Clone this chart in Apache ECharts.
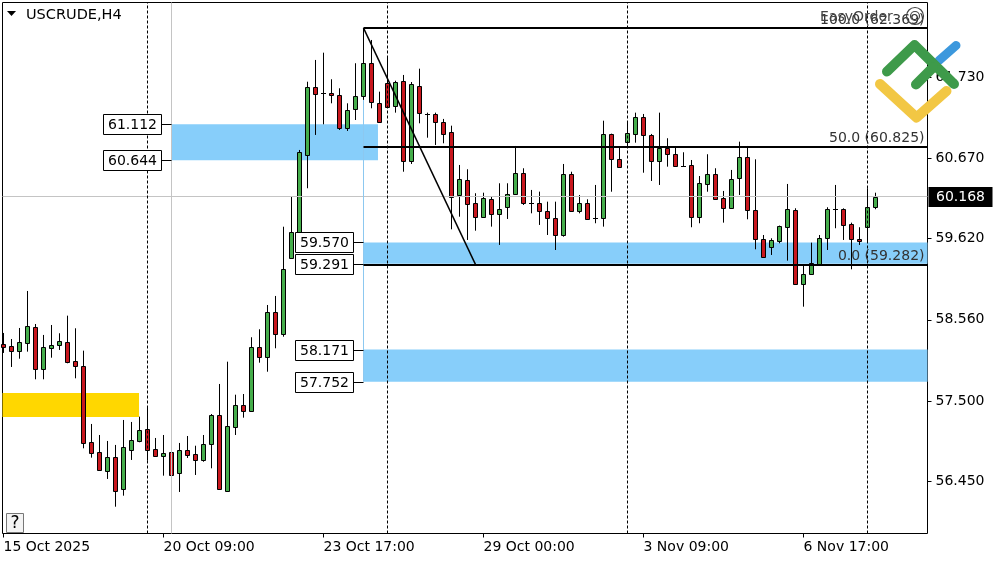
<!DOCTYPE html>
<html><head><meta charset="utf-8">
<script src="https://cdn.jsdelivr.net/npm/echarts@6/dist/echarts.min.js"></script>
<style>html,body{margin:0;padding:0;background:#fff}#c{width:1000px;height:562px}</style>
</head><body><div id="c"></div>
<script>
// ---- data ----
const xTickBars = [0, 20, 40, 60, 80, 100];
const xTickLabels = ['15 Oct 2025', '20 Oct 09:00', '23 Oct 17:00', '29 Oct 00:00', '3 Nov 09:00', '6 Nov 17:00'];
const yTickValues = [56.450, 57.500, 58.560, 59.620, 60.670, 61.730];

const opens = [58.244,58.218,58.149,58.261,58.466,57.914,58.196,58.227,58.270,58.022,
57.957,56.961,56.830,56.590,56.769,56.355,56.864,56.982,57.130,56.869,
56.786,56.834,56.556,56.856,56.808,56.730,56.935,57.317,56.329,57.157,
57.444,57.373,58.201,58.078,58.658,58.375,59.363,59.689,60.715,61.595,
61.517,61.525,61.495,61.060,61.308,61.478,61.909,61.386,61.648,61.351,
61.674,60.637,61.612,61.247,61.243,61.138,61.008,60.189,60.381,60.089,
59.898,60.133,59.937,60.029,60.198,60.473,60.089,60.089,59.984,59.885,
59.667,60.463,59.984,60.089,59.893,59.885,60.986,60.655,60.885,60.986,
61.212,60.973,60.637,60.799,60.725,60.572,60.581,59.906,60.333,60.459,
60.146,60.024,60.407,60.681,59.993,59.615,59.507,59.593,59.775,59.993,
59.027,59.158,59.289,59.624,60.010,60.010,59.811,59.615,59.775,60.029];
const closes = [58.205,58.149,58.270,58.479,57.914,58.201,58.227,58.279,58.013,57.961,
56.956,56.825,56.603,56.765,56.329,56.896,56.987,57.117,56.864,56.786,
56.821,56.538,56.856,56.799,56.734,56.935,57.317,56.347,57.174,57.444,
57.373,58.201,58.078,58.658,58.371,59.219,59.702,60.747,61.595,61.508,
61.517,61.491,61.060,61.299,61.478,61.909,61.399,61.146,61.342,61.664,
60.637,61.638,61.256,61.247,61.138,60.982,60.159,60.394,60.068,59.898,
60.146,59.937,60.003,60.202,60.473,60.089,60.089,59.984,59.893,59.667,
60.463,59.984,60.089,59.876,59.893,60.986,60.655,60.559,60.995,61.212,
60.967,60.637,60.799,60.721,60.572,60.572,59.906,60.342,60.459,60.137,
60.024,60.394,60.681,59.993,59.611,59.376,59.602,59.785,60.003,59.027,
59.158,59.298,59.632,60.010,60.010,59.798,59.615,59.589,60.029,60.168];
const lows = [58.127,57.944,58.052,58.144,57.783,57.783,58.065,58.166,57.992,57.796,
56.882,56.760,56.600,56.482,56.120,56.264,56.730,56.961,56.721,56.773,
56.525,55.937,56.312,56.756,56.534,56.707,56.621,56.340,56.312,57.056,
57.282,57.365,58.000,57.882,58.188,58.339,59.355,59.667,60.277,60.973,
61.112,61.386,61.038,61.025,61.168,61.430,61.321,61.140,61.335,61.264,
60.493,60.594,61.125,60.937,60.842,60.864,59.741,59.906,59.602,59.723,
59.890,59.776,59.537,59.876,60.190,60.059,59.950,59.798,59.667,59.471,
59.645,59.980,59.950,59.863,59.820,59.776,60.232,60.551,60.829,60.872,
60.480,60.372,60.320,60.559,60.565,60.559,59.768,59.820,60.232,60.124,
59.828,60.020,60.189,59.872,59.480,59.370,59.406,59.559,59.332,59.020,
58.731,59.145,59.282,59.471,59.755,59.602,59.219,59.537,59.567,60.003];
const highs = [58.388,58.309,58.453,58.936,58.505,58.362,58.492,58.384,58.614,58.449,
58.157,57.200,57.056,56.978,56.926,57.252,57.226,57.295,57.409,57.017,
57.056,57.017,56.952,57.043,56.916,57.056,57.330,57.722,58.013,57.582,
57.591,58.332,58.436,58.753,58.871,59.775,60.167,60.777,61.668,61.952,
62.047,61.700,61.582,61.386,61.909,62.369,62.213,61.538,61.995,61.681,
61.756,61.664,61.838,61.264,61.264,61.182,61.094,60.581,60.525,60.212,
60.219,60.167,60.342,60.342,60.829,60.538,60.255,60.233,60.102,60.102,
60.594,60.493,60.189,60.133,60.320,61.159,60.990,60.820,61.142,61.264,
61.247,60.986,61.264,60.930,60.820,60.747,60.646,60.437,60.721,60.538,
60.242,60.516,60.885,60.829,60.655,59.667,59.624,59.790,60.333,60.016,
59.275,59.567,59.667,60.029,60.320,60.015,59.828,59.768,60.277,60.219];

const lastPrice = 60.168;
const fibStartBar = 45;
const fibLevels = [62.369, 60.825, 59.282];
const fibNames = ['100.0', '50.0', '0.0'];
const trendEndBar = 59;
const weekStartBars = [18, 48, 78, 108];
const markerBar = 21;
const zoneUpper = [61.112, 60.644];
const zoneUpperEndBar = 46.81;
const zoneMid = [59.570, 59.291];
const zoneLow = [58.171, 57.752];
const yellowZone = [57.605, 57.292];
const yellowEndBar = 16.94;
const blueVLineTop = 61.430;

const xMin = -0.125, xMax = 115.5, yMin = 55.770, yMax = 62.702;

// ---- build ----
const FONT = '"DejaVu Sans", sans-serif';
const GREEN = '#45ad4b', RED = '#c8171e';
const candleData = opens.map((o, i) => [i, o, closes[i], lows[i], highs[i]]);

function renderCandle(params, api) {
  const i = api.value(0), o = api.value(1), c = api.value(2), l = api.value(3), h = api.value(4);
  const pH = api.coord([i, h]), pL = api.coord([i, l]), pO = api.coord([i, o]), pC = api.coord([i, c]);
  const cx = Math.floor(pH[0]) + 0.5;
  const children = [{ type: 'line', shape: { x1: cx, y1: pH[1], x2: cx, y2: pL[1] }, style: { stroke: '#000', lineWidth: 1 } }];
  const top = Math.min(pO[1], pC[1]), bot = Math.max(pO[1], pC[1]);
  if (o === c) {
    const yy = Math.round(top) + 0.5;
    children.push({ type: 'line', shape: { x1: cx - 2.5, y1: yy, x2: cx + 2.5, y2: yy }, style: { stroke: '#000', lineWidth: 1 } });
  } else {
    const t = Math.round(top) + 0.5, b = Math.max(Math.round(bot) + 0.5, t + 1);
    children.push({ type: 'rect', shape: { x: cx - 2, y: t, width: 4, height: b - t },
      style: { fill: c > o ? GREEN : RED, stroke: '#000', lineWidth: 1 } });
  }
  return { type: 'group', children };
}

const tagData = [
  [markerBar, zoneUpper[0]], [markerBar, zoneUpper[1]],
  [fibStartBar, zoneMid[0]], [fibStartBar, zoneMid[1]],
  [fibStartBar, zoneLow[0]], [fibStartBar, zoneLow[1]]
];
function renderTag(params, api) {
  const v = api.value(1);
  const p = api.coord([api.value(0), v]);
  const x = Math.floor(p[0]) + 0.5, y = Math.round(p[1]) + 0.5;
  return { type: 'group', children: [
    { type: 'line', shape: { x1: x - 10, y1: y, x2: x, y2: y }, style: { stroke: '#000', lineWidth: 1 } },
    { type: 'rect', shape: { x: x - 68, y: y - 10, width: 58, height: 20 }, style: { fill: '#fff', stroke: '#000', lineWidth: 1 } },
    { type: 'text', style: { text: v.toFixed(3), x: x - 39, y: y + 0.5, align: 'center', verticalAlign: 'middle', fill: '#000', font: '14px ' + FONT } }
  ] };
}

function renderBidTag(params, api) {
  const v = api.value(1);
  const p = api.coord([api.value(0), v]);
  const x = Math.round(p[0]), y = Math.round(p[1]);
  return { type: 'group', children: [
    { type: 'rect', shape: { x: x + 0.5, y: y - 10, width: 64, height: 20 }, style: { fill: '#000' } },
    { type: 'text', style: { text: v.toFixed(3), x: x + 8, y: y + 0.5, align: 'left', verticalAlign: 'middle', fill: '#fff', font: '14px ' + FONT } }
  ] };
}

const fibLabelData = fibLevels.map((lv, i) => [xMax, lv, i]);
function renderFibLabel(params, api) {
  const p = api.coord([api.value(0), api.value(1)]);
  const idx = api.value(2);
  return { type: 'text', style: { text: fibNames[idx] + ' (' + fibLevels[idx].toFixed(3) + ')', x: p[0] - 3, y: p[1] - 1,
    align: 'right', verticalAlign: 'bottom', fill: '#333', font: '14px ' + FONT } };
}

const chart = echarts.init(document.getElementById('c'), null, { renderer: 'canvas' });
const option = {
  animation: false,
  backgroundColor: '#fff',
  grid: { left: 2.5, right: 72.5, top: 2.5, bottom: 28.5, show: true, borderColor: '#000', borderWidth: 1, backgroundColor: 'transparent' },
  xAxis: {
    type: 'value', min: xMin, max: xMax,
    axisLine: { show: false, onZero: false }, splitLine: { show: false },
    axisTick: { show: true, customValues: xTickBars, length: 4, lineStyle: { color: '#000' } },
    axisLabel: { customValues: xTickBars, align: 'left', margin: 7, color: '#000', fontSize: 14, fontFamily: FONT,
      formatter: v => xTickLabels[xTickBars.indexOf(Math.round(v))] || '' }
  },
  yAxis: {
    type: 'value', position: 'right', min: yMin, max: yMax, scale: true,
    axisLine: { show: false, onZero: false }, splitLine: { show: false },
    axisTick: { show: true, customValues: yTickValues, length: 4, lineStyle: { color: '#000' } },
    axisLabel: { customValues: yTickValues, margin: 8, color: '#000', fontSize: 14, fontFamily: FONT,
      formatter: v => v.toFixed(3) }
  },
  series: [
    { type: 'line', name: 'zones', data: [], z: 1, silent: true,
      markArea: { silent: true, data: [
        [{ coord: [markerBar, zoneUpper[0]], itemStyle: { color: '#87cefa' } }, { coord: [zoneUpperEndBar, zoneUpper[1]] }],
        [{ coord: [fibStartBar, zoneMid[0]], itemStyle: { color: '#87cefa' } }, { coord: [xMax, zoneMid[1]] }],
        [{ coord: [fibStartBar, zoneLow[0]], itemStyle: { color: '#87cefa' } }, { coord: [xMax, zoneLow[1]] }],
        [{ coord: [xMin, yellowZone[0]], itemStyle: { color: '#ffd700' } }, { coord: [yellowEndBar, yellowZone[1]] }]
      ] } },
    { type: 'line', name: 'grayLines', data: [], z: 2, silent: true,
      markLine: { silent: true, symbol: ['none', 'none'], label: { show: false }, lineStyle: { color: '#c4c4c4', width: 1, type: 'solid' },
        data: [{ xAxis: markerBar }, { yAxis: lastPrice }] } },
    { type: 'line', name: 'blueV', data: [], z: 2, silent: true,
      markLine: { silent: true, symbol: ['none', 'none'], label: { show: false }, lineStyle: { color: '#8cc8f0', width: 1, type: 'solid' },
        data: [[{ coord: [fibStartBar, blueVLineTop] }, { coord: [fibStartBar, zoneLow[1]] }]] } },
    { type: 'custom', name: 'candles', data: candleData, z: 3, renderItem: renderCandle, silent: true,
      encode: { x: 0, y: [1, 2, 3, 4] } },
    { type: 'line', name: 'separators', data: [], z: 4, silent: true,
      markLine: { silent: true, symbol: ['none', 'none'], label: { show: false }, lineStyle: { color: '#000', width: 1, type: [3, 2] },
        data: weekStartBars.map(b => ({ xAxis: b })) } },
    { type: 'line', name: 'fib', data: [], z: 4, silent: true,
      markLine: { silent: true, symbol: ['none', 'none'], label: { show: false }, lineStyle: { color: '#000', width: 2, type: 'solid' },
        data: fibLevels.map(lv => [{ coord: [fibStartBar, lv] }, { coord: [xMax, lv] }]) } },
    { type: 'line', name: 'trend', data: [], z: 4, silent: true,
      markLine: { silent: true, symbol: ['none', 'none'], label: { show: false }, lineStyle: { color: '#000', width: 1.6, type: 'solid' },
        data: [[{ coord: [fibStartBar, fibLevels[0]] }, { coord: [trendEndBar, fibLevels[2]] }]] } },
    { type: 'custom', name: 'bidTag', data: [[xMax, lastPrice]], z: 6, renderItem: renderBidTag, silent: true, clip: false, encode: { x: 0, y: 1 } },
    { type: 'custom', name: 'fibLabels', data: fibLabelData, z: 5, renderItem: renderFibLabel, silent: true, encode: { x: 0, y: 1 } },
    { type: 'custom', name: 'tags', data: tagData, z: 5, renderItem: renderTag, silent: true, encode: { x: 0, y: 1 } }
  ],
  graphic: [
    { type: 'polygon', shape: { points: [[7, 11], [16, 11], [11.5, 16]] }, style: { fill: '#000' }, z: 10 },
    { type: 'text', x: 26, y: 15.5, style: { text: 'USCRUDE,H4', font: '14.5px ' + FONT, fill: '#000', verticalAlign: 'middle' }, z: 10 },
    { type: 'rect', shape: { x: 6.5, y: 513.5, width: 17, height: 19 }, style: { fill: '#f4f4f4', stroke: '#777', lineWidth: 1 }, z: 10 },
    { type: 'text', x: 15, y: 523.5, style: { text: '?', font: '17px ' + FONT, fill: '#000', align: 'center', verticalAlign: 'middle' }, z: 11 },
    { type: 'text', x: 820, y: 17, style: { text: 'EasyOrder', font: '14px ' + FONT, fill: '#444', verticalAlign: 'middle' }, z: 10 },
    { type: 'circle', shape: { cx: 915, cy: 16, r: 8.5 }, style: { fill: 'none', stroke: '#444', lineWidth: 1.2 }, z: 10 },
    { type: 'circle', shape: { cx: 915, cy: 16, r: 4.5 }, style: { fill: 'none', stroke: '#444', lineWidth: 1.2 }, z: 10 },
    { type: 'polyline', shape: { points: [[880, 84], [916.5, 117.5], [946.5, 91]] }, style: { stroke: '#f2c744', lineWidth: 10, lineCap: 'round', lineJoin: 'round', fill: 'none' }, z: 20 },
    { type: 'polyline', shape: { points: [[887, 71.5], [914.5, 45], [954, 84]] }, style: { stroke: '#3e9a4a', lineWidth: 10, lineCap: 'round', lineJoin: 'round', fill: 'none' }, z: 21 },
    { type: 'polyline', shape: { points: [[916, 84.5], [933, 67.5]] }, style: { stroke: '#3e9a4a', lineWidth: 10, lineCap: 'round', fill: 'none' }, z: 21 },
    { type: 'polyline', shape: { points: [[939, 60.5], [956, 45.5]] }, style: { stroke: '#3c98dd', lineWidth: 9, lineCap: 'round', fill: 'none' }, z: 19 }
  ]
};
chart.setOption(option);
</script>
</body></html>
